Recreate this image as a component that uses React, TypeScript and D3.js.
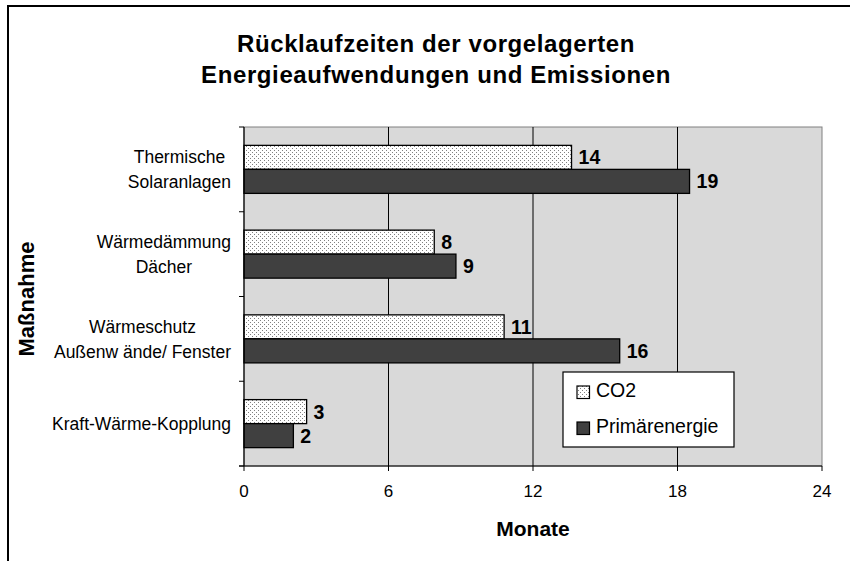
import React from "react";
import * as d3 from "d3";

const titleLines = ["Rücklaufzeiten der vorgelagerten", "Energieaufwendungen und Emissionen"];
const categories: string[][] = [
  ["Thermische ", "Solaranlagen"],
  ["Wärmedämmung", "Dächer"],
  ["Wärmeschutz", "Außenw ände/ Fenster"],
  ["Kraft-Wärme-Kopplung"],
];
const seriesNames = ["CO2", "Primärenergie"];
const co2Values = [13.6, 7.9, 10.8, 2.6];
const primValues = [18.5, 8.8, 15.6, 2.05];
const xTicks = [0, 6, 12, 18, 24];
const xTitle = "Monate";
const yTitle = "Maßnahme";

const FONT = "'Liberation Sans', Arial, Helvetica, sans-serif";

const W = 850;
const H = 561;
const plot = { left: 244, right: 822, top: 127, bottom: 466 };

let measureCtx: CanvasRenderingContext2D | null = null;
function textWidth(t: string, font: string) {
  if (!measureCtx) {
    const c = document.createElement("canvas");
    measureCtx = c.getContext("2d");
  }
  if (!measureCtx) return t.length * 8;
  measureCtx.font = font;
  return measureCtx.measureText(t).width;
}

export default function App() {
  const x = d3.scaleLinear().domain([0, 24]).range([plot.left, plot.right]);
  const y = d3
    .scaleBand<number>()
    .domain(categories.map((_, i) => i))
    .range([plot.top, plot.bottom])
    .padding(0);
  const inner = d3
    .scaleBand<string>()
    .domain(seriesNames)
    .range([0, y.bandwidth()])
    .paddingInner(0)
    .paddingOuter(0.765);

  const series = [
    { name: seriesNames[0], values: co2Values, fill: "url(#dots)" },
    { name: seriesNames[1], values: primValues, fill: "#404040" },
  ];

  const catSize = 17.5;
  const catFont = `${catSize}px ${FONT}`;
  const labelRight = 231;
  const lineH = 25;

  const legend = { x: 563, y: 372, w: 171, h: 75 };

  return (
    <svg
      width={W}
      height={H}
      style={{ position: "absolute", left: 0, top: 0, background: "#fff" }}
      fontFamily={FONT}
    >
      <defs>
        <pattern id="dots" width="4" height="4" patternUnits="userSpaceOnUse">
          <rect width="4" height="4" fill="#fff" />
          <rect x="0" y="0" width="1" height="1" fill="#808080" />
          <rect x="2" y="2" width="1" height="1" fill="#808080" />
        </pattern>
      </defs>

      {/* outer frame (cropped) */}
      <line x1={8} y1={6} x2={W} y2={6} stroke="#000" strokeWidth={2} />
      <line x1={8} y1={5} x2={8} y2={H} stroke="#000" strokeWidth={2} />

      {/* title */}
      {titleLines.map((t, i) => (
        <text
          key={i}
          x={436}
          y={52 + i * 31}
          textAnchor="middle"
          fontSize={24}
          fontWeight="bold"
          letterSpacing={0.6}
        >
          {t}
        </text>
      ))}

      {/* plot area */}
      <rect
        x={plot.left}
        y={plot.top}
        width={plot.right - plot.left}
        height={plot.bottom - plot.top}
        fill="#d9d9d9"
        stroke="#808080"
        strokeWidth={1}
      />
      {xTicks
        .filter((t) => t > 0 && t < 24)
        .map((t) => (
          <line
            key={t}
            x1={x(t)}
            x2={x(t)}
            y1={plot.top}
            y2={plot.bottom}
            stroke="#000"
            strokeWidth={1}
          />
        ))}

      {/* bars */}
      {series.map((s) =>
        s.values.map((v, i) => {
          const by = (y(i) ?? 0) + (inner(s.name) ?? 0);
          const bh = inner.bandwidth();
          return (
            <g key={s.name + i}>
              <rect
                x={x(0)}
                y={by}
                width={x(v) - x(0)}
                height={bh}
                fill={s.fill}
                stroke="#000"
                strokeWidth={1.3}
              />
              <text
                x={x(v) + 7}
                y={by + bh / 2 + 7}
                fontSize={19.5}
                fontWeight="bold"
              >
                {Math.round(v)}
              </text>
            </g>
          );
        })
      )}

      {/* axes */}
      <line x1={plot.left} x2={plot.left} y1={plot.top} y2={plot.bottom} stroke="#000" strokeWidth={1.2} />
      <line x1={plot.left - 5} x2={plot.right} y1={plot.bottom} y2={plot.bottom} stroke="#000" strokeWidth={1.2} />
      {xTicks.map((t) => (
        <g key={t}>
          <line x1={x(t)} x2={x(t)} y1={plot.bottom} y2={plot.bottom + 5} stroke="#000" strokeWidth={1} />
          <text x={x(t)} y={497} textAnchor="middle" fontSize={17}>
            {t}
          </text>
        </g>
      ))}
      {d3.range(categories.length + 1).map((i) => {
        const yy = plot.top + i * y.step();
        return (
          <line key={i} x1={plot.left - 5} x2={plot.left} y1={yy} y2={yy} stroke="#000" strokeWidth={1} />
        );
      })}

      {/* category labels */}
      {categories.map((lines, i) => {
        const cy = (y(i) ?? 0) + y.bandwidth() / 2;
        const bw = Math.max(...lines.map((l) => textWidth(l.trim(), catFont)));
        const cx = labelRight - bw / 2;
        const first = cy - ((lines.length - 1) * lineH) / 2 + 6.2;
        return (
          <g key={i}>
            {lines.map((l, j) => (
              <text key={j} x={cx} y={first + j * lineH} textAnchor="middle" fontSize={catSize}>
                {l.trim()}
              </text>
            ))}
          </g>
        );
      })}

      {/* axis titles */}
      <text x={533} y={536} textAnchor="middle" fontSize={21} fontWeight="bold">
        {xTitle}
      </text>
      <text
        transform="translate(34,299) rotate(-90)"
        textAnchor="middle"
        fontSize={22}
        fontWeight="bold"
      >
        {yTitle}
      </text>

      {/* legend */}
      <rect x={legend.x} y={legend.y} width={legend.w} height={legend.h} fill="#fff" stroke="#000" strokeWidth={1.2} />
      {series.map((s, i) => (
        <g key={s.name}>
          <rect x={577} y={386 + i * 36} width={12.5} height={12.5} fill={s.fill} stroke="#000" strokeWidth={1.2} />
          <text x={596} y={397 + i * 36} fontSize={19.5}>
            {s.name}
          </text>
        </g>
      ))}
    </svg>
  );
}
